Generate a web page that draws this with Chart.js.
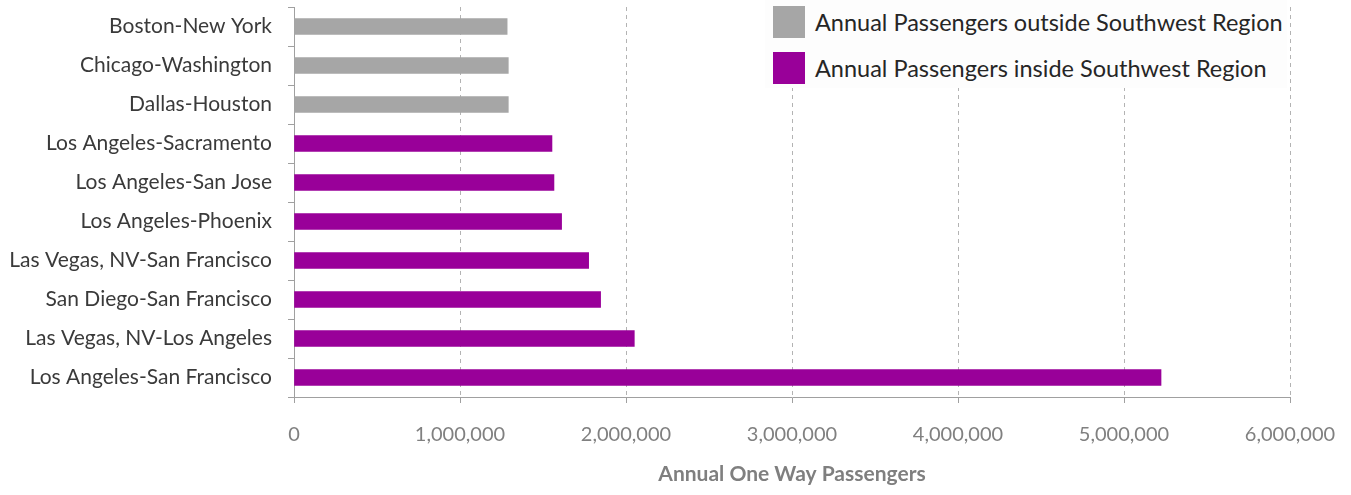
<!DOCTYPE html>
<html>
<head>
<meta charset="utf-8">
<script src="https://cdn.jsdelivr.net/npm/chart.js@4/dist/chart.umd.min.js"></script>
<style>
  html, body { margin: 0; padding: 0; background: #ffffff; }
  #wrap { position: relative; width: 1351px; height: 495px; }
  #leyenda {
    position: absolute; left: 765px; top: 0px; width: 522px; height: 88px;
    background: #fdfdfd; font-family: Lato, "Open Sans", sans-serif;
  }
  #leyenda .item { position: absolute; left: 8px; height: 32px; display: flex; align-items: center; }
  #leyenda .caja { width: 32px; height: 32px; margin-right: 10px; }
  #leyenda .txt { font-size: 23.5px; color: #262626; white-space: nowrap; }
</style>
</head>
<body>
<div id="wrap">
  <canvas id="miGrafico" width="1351" height="495"></canvas>
  <div id="leyenda"></div>
</div>
<script>
// Rutas (de arriba hacia abajo)
const rutas = [
  'Boston-New York',
  'Chicago-Washington',
  'Dallas-Houston',
  'Los Angeles-Sacramento',
  'Los Angeles-San Jose',
  'Los Angeles-Phoenix',
  'Las Vegas, NV-San Francisco',
  'San Diego-San Francisco',
  'Las Vegas, NV-Los Angeles',
  'Los Angeles-San Francisco'
];
// Pasajeros anuales fuera de la region suroeste
const fueraRegion = [1284000, 1291000, 1291000, null, null, null, null, null, null, null];
// Pasajeros anuales dentro de la region suroeste
const dentroRegion = [null, null, null, 1554000, 1566000, 1612000, 1775000, 1847000, 2050000, 5223000];
// Marcas del eje x
const marcasX = [0, 1000000, 2000000, 3000000, 4000000, 5000000, 6000000];

const colorGris = '#a6a6a6';
const colorMorado = '#990099';

let chartData = {
    labels: rutas,
    datasets: [{
            label: 'Annual Passengers outside Southwest Region',
            data: fueraRegion,
            backgroundColor: colorGris,
            barThickness: 16,
        }, {
            label: 'Annual Passengers inside Southwest Region',
            data: dentroRegion,
            backgroundColor: colorMorado,
            barThickness: 16,
        }
    ],
};

// Leyenda en HTML
const leyendaHtml = {
    id: 'leyendaHtml',
    afterUpdate(chart) {
        const cont = document.getElementById('leyenda');
        cont.innerHTML = '';
        chart.data.datasets.forEach((ds, i) => {
            const item = document.createElement('div');
            item.className = 'item';
            item.style.top = (6 + i * 46) + 'px';
            const caja = document.createElement('div');
            caja.className = 'caja';
            caja.style.background = ds.backgroundColor;
            const txt = document.createElement('span');
            txt.className = 'txt';
            txt.textContent = ds.label;
            item.appendChild(caja);
            item.appendChild(txt);
            cont.appendChild(item);
        });
    }
};

const grafico = new Chart(document.getElementById('miGrafico'), {
    type: 'bar',
    data: chartData,
    plugins: [leyendaHtml],
    options: {
        indexAxis: 'y',
        responsive: false,
        animation: false,
        layout: { autoPadding: false, padding: { top: 7, right: 61, left: 0, bottom: 0 } },
        plugins: {
            legend: { display: false },
            tooltip: { enabled: false },
        },
        scales: {
            x: {
                min: 0,
                max: 6000000,
                afterBuildTicks: (s) => { s.ticks = marcasX.map(v => ({ value: v })); },
                afterFit: (s) => { s.height = 98; s.paddingLeft = 0; s.paddingRight = 0; },
                grid: { color: '#b3b3b3', tickColor: '#a0a0a0', tickLength: 6, lineWidth: 1 },
                border: { display: true, color: '#a0a0a0', dash: [4, 4] },
                ticks: {
                    color: '#808080',
                    padding: 20,
                    font: { family: 'Lato', size: 20 },
                    callback: (v) => v.toLocaleString('en-US'),
                },
                title: {
                    display: true,
                    text: 'Annual One Way Passengers',
                    color: '#7f7f7f',
                    font: { family: 'Lato', size: 21, weight: 'bold' },
                    padding: { top: 0, bottom: 8 },
                },
            },
            y: {
                stacked: true,
                afterFit: (s) => { s.width = 294; s.paddingTop = 0; s.paddingBottom = 0; },
                grid: { drawOnChartArea: false, tickLength: 6, color: '#a0a0a0', offset: true },
                border: { display: true, color: '#a0a0a0' },
                ticks: {
                    color: '#3a3a3a',
                    padding: 16,
                    font: { family: 'Lato', size: 21 },
                },
            },
        },
    }
});
</script>
</body>
</html>
